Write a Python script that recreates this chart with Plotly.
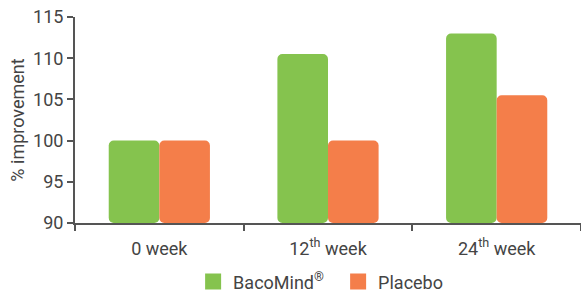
import plotly.graph_objects as go

categories = ["0 week", "12<sup>th</sup> week", "24<sup>th</sup> week"]
bacomind = [100, 110.5, 113]
placebo = [100, 100, 105.5]
series_names = ["BacoMind<sup>®</sup>", "Placebo"]
y_ticks = [90, 95, 100, 105, 110, 115]

green = "#85C34E"
orange = "#F47E4A"
text_col = "#444444"
axis_col = "#555555"

fig = go.Figure()
fig.add_trace(go.Bar(x=categories, y=[v - 90 for v in bacomind], base=90,
                     marker=dict(color=green, line=dict(width=0)),
                     name=series_names[0], showlegend=False))
fig.add_trace(go.Bar(x=categories, y=[v - 90 for v in placebo], base=90,
                     marker=dict(color=orange, line=dict(width=0)),
                     name=series_names[1], showlegend=False))
for nm, col in zip(series_names, [green, orange]):
    fig.add_trace(go.Scatter(x=[None], y=[None], mode="markers", name=nm,
                             marker=dict(symbol="square", size=17, color=col)))

fig.update_layout(
    width=581, height=294,
    margin=dict(l=75, r=0, t=17, b=71, autoexpand=False),
    paper_bgcolor="white", plot_bgcolor="white",
    font=dict(family="Roboto", size=18, color=text_col),
    barmode="group", bargap=0.4, bargroupgap=0,
    barcornerradius=5,
    legend=dict(orientation="h", x=0.52, xanchor="center", y=-0.286,
                yanchor="middle", font=dict(size=18, color=text_col),
                itemsizing="trace", traceorder="normal", entrywidth=100),
    xaxis=dict(showline=True, linecolor=axis_col, linewidth=2, ticks="outside",
               tickson="boundaries", ticklen=6, tickwidth=2, tickcolor=axis_col,
               showgrid=False, tickfont=dict(size=18, color=text_col),
               ticklabelstandoff=8),
    yaxis=dict(range=[90, 115], tickvals=y_ticks, showline=True, linecolor=axis_col,
               linewidth=2, ticks="outside", ticklen=6, tickwidth=2, tickcolor=axis_col,
               showgrid=False, zeroline=False, tickfont=dict(size=18, color=text_col),
               title=dict(text="% improvement", font=dict(size=18, color=text_col),
                          standoff=4)),
)
fig.write_html("out.html", config={"displayModeBar": False},
               post_script="document.body.style.margin='0';document.body.style.overflow='hidden';")
